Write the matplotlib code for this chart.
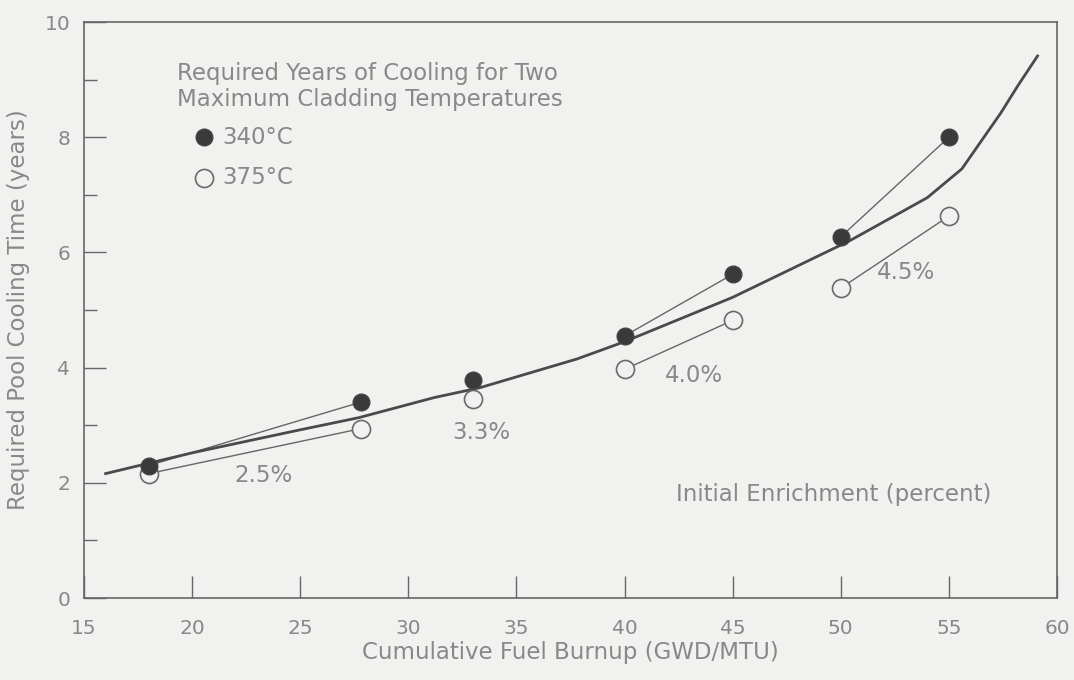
import matplotlib
import numpy as np
from matplotlib import pyplot as plt
from matplotlib.ticker import MultipleLocator

matplotlib.use('Agg')

# 数据
burnup = [18, 27.8, 33, 40, 45, 50, 55]
years_340 = [2.3, 3.4, 3.78, 4.55, 5.62, 6.27, 8.0]
years_375 = [2.16, 2.94, 3.46, 3.97, 4.82, 5.38, 6.63]
pairs = [(0, 1), (3, 4), (5, 6)]  # 同一富集度的两点连线

curve_x = [16.0, 20.0, 25.0, 27.7, 31.2, 33.3, 37.8, 40.0, 45.0, 50.4, 54.0, 55.6, 57.4, 58.2, 59.1]
curve_y = [2.16, 2.52, 2.92, 3.13, 3.48, 3.65, 4.15, 4.45, 5.22, 6.2, 6.95, 7.45, 8.42, 8.9, 9.41]

enrich_labels = ["2.5%", "3.3%", "4.0%", "4.5%"]
enrich_x = [23.3, 33.4, 43.2, 53.0]
enrich_y = [2.12, 2.87, 3.86, 5.65]

bg = '#f1f1ef'
txt = '#888888'
ink = '#4a4a4a'
fs = 16.5

plt.rcParams['font.family'] = ['DejaVu Sans']

fig = plt.figure(figsize=(10.74, 6.8), dpi=100, facecolor=bg)
ax = fig.add_axes([84 / 1074, 1 - 598 / 680, (1057 - 84) / 1074, (598 - 22) / 680])
ax.set_facecolor(bg)

# 拟合曲线
ax.plot(curve_x, curve_y, color=ink, lw=2.0, zorder=2)

# 连线
for i, j in pairs:
    ax.plot([burnup[i], burnup[j]], [years_340[i], years_340[j]], color='#666666', lw=1.0, zorder=1)
    ax.plot([burnup[i], burnup[j]], [years_375[i], years_375[j]], color='#666666', lw=1.0, zorder=1)

ax.plot(burnup, years_375, 'o', ms=13, mfc=bg, mec='#6a6a6a', mew=1.2, ls='None', zorder=3)
ax.plot(burnup, years_340, 'o', ms=12, mfc='#3a3a3a', mec='#444444', ls='None', zorder=4)

for s, x, y in zip(enrich_labels, enrich_x, enrich_y):
    ax.text(x, y, s, ha='center', va='center', fontsize=fs, color=txt)

ax.text(49.65, 1.79, "Initial Enrichment (percent)", ha='center', va='center', fontsize=fs, color=txt)
ax.text(19.3, 8.88, "Required Years of Cooling for Two\nMaximum Cladding Temperatures",
        ha='left', va='center', fontsize=fs, color=txt, linespacing=1.15)

# 图例
ax.plot(20.55, 8.0, 'o', ms=12, mfc='#3a3a3a', mec='#444444')
ax.text(21.4, 8.0, "340°C", ha='left', va='center', fontsize=fs, color=txt)
ax.plot(20.55, 7.3, 'o', ms=13, mfc=bg, mec='#6a6a6a', mew=1.2)
ax.text(21.4, 7.3, "375°C", ha='left', va='center', fontsize=fs, color=txt)

ax.set_xlim(15, 60)
ax.set_ylim(0, 10)
ax.xaxis.set_major_locator(MultipleLocator(5))
ax.yaxis.set_major_locator(MultipleLocator(2))
ax.yaxis.set_minor_locator(MultipleLocator(1))
ax.tick_params(axis='both', which='major', direction='in', length=16, width=1, color='#666666',
               labelsize=14.5, labelcolor=txt)
ax.tick_params(axis='x', which='major', pad=15)
ax.tick_params(axis='y', which='major', pad=10)
ax.tick_params(axis='y', which='minor', direction='in', length=9, width=1, color='#666666')
for sp in ax.spines.values():
    sp.set_color('#666666')
    sp.set_linewidth(1.2)

ax.set_xlabel("Cumulative Fuel Burnup (GWD/MTU)", fontsize=fs, color=txt, labelpad=2)
ax.set_ylabel("Required Pool Cooling Time (years)", fontsize=fs, color=txt, labelpad=10)

plt.savefig("out.png", dpi=100, facecolor=bg)
